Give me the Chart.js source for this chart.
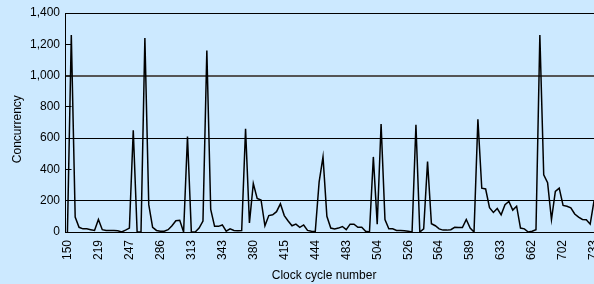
<!DOCTYPE html>
<html>
<head>
<meta charset="utf-8">
<script src="https://cdn.jsdelivr.net/npm/chart.js"></script>
<style>
  html, body { margin: 0; padding: 0; background: #cce9ff; overflow: hidden; }
  #wrap { width: 596px; height: 284px; }
</style>
</head>
<body>
<div id="wrap"><canvas id="cycleChart" width="596" height="284"></canvas></div>
<script>
// clock cycle numbers shown under the axis (one every 8 samples)
const tickLabels = ['150', '219', '247', '286', '313', '343', '380', '415', '444',
                    '483', '504', '526', '564', '589', '633', '662', '702', '733'];
const perTick = 8;

// concurrency per sample
const concurrency = [
  0, 1260, 95, 30, 20, 20, 15, 10, 80, 15,
  10, 10, 10, 8, 0, 12, 25, 650, 0, 0,
  1240, 175, 30, 10, 5, 5, 15, 40, 72, 75,
  0, 610, 0, 0, 25, 70, 1160, 145, 36, 36,
  45, 5, 20, 10, 8, 10, 660, 58, 310, 215,
  205, 40, 105, 110, 130, 180, 105, 70, 40, 50,
  30, 45, 10, 5, 3, 320, 480, 100, 25, 20,
  25, 35, 15, 50, 50, 30, 30, 5, 0, 480,
  50, 690, 80, 20, 20, 10, 10, 8, 5, 0,
  686, 0, 20, 450, 53, 40, 20, 12, 12, 15,
  30, 28, 28, 80, 25, 0, 720, 280, 275, 155,
  125, 150, 110, 175, 195, 140, 165, 25, 20, 0,
  5, 15, 1260, 365, 315, 80, 260, 280, 170, 165,
  155, 115, 95, 80, 78, 50, 200
];

const gridAt = [200, 600, 1000, 1400];

const labels = concurrency.map((v, i) => i % perTick === 0 ? tickLabels[i / perTick] : '');

Chart.defaults.font.family = '"Liberation Sans", Arial, sans-serif';
Chart.defaults.font.size = 12;
Chart.defaults.color = '#000';

const ctx = document.getElementById('cycleChart').getContext('2d');
new Chart(ctx, {
  type: 'line',
  data: {
    labels: labels,
    datasets: [{
      data: concurrency,
      borderColor: '#000',
      borderWidth: 1.5,
      pointRadius: 0,
      tension: 0,
      fill: false
    }]
  },
  options: {
    responsive: false,
    animation: false,
    devicePixelRatio: 1,
    layout: { padding: { top: 13, right: 0, bottom: 0, left: 0 } },
    plugins: { legend: { display: false }, tooltip: { enabled: false } },
    scales: {
      x: {
        offset: true,
        grid: { display: false },
        border: { color: '#000', width: 1 },
        ticks: { autoSkip: false, minRotation: 90, maxRotation: 90, padding: 0 },
        title: { display: true, text: 'Clock cycle number    ', padding: { top: 0, bottom: 1 } },
        afterFit: s => { s.height = 52; s.paddingLeft = 0; s.paddingRight = 0; }
      },
      y: {
        min: 0,
        max: 1400,
        ticks: { stepSize: 200, padding: 11.5, callback: v => v.toLocaleString('en-US') },
        grid: {
          color: c => !gridAt.includes(c.tick.value) ? 'rgba(0,0,0,0)' : (c.tick.value === 1000 ? '#555' : '#000'),
          lineWidth: c => c.tick.value === 1000 ? 2 : 1,
          tickColor: '#000',
          tickWidth: 1,
          tickLength: -6
        },
        border: { color: '#000', width: 1 },
        title: { display: true, text: 'Concurrency    ', padding: { top: 10, bottom: 0 } },
        afterFit: s => { s.width = 65.5; s.paddingTop = 0; s.paddingBottom = 0; }
      }
    }
  }
});
</script>
</body>
</html>
